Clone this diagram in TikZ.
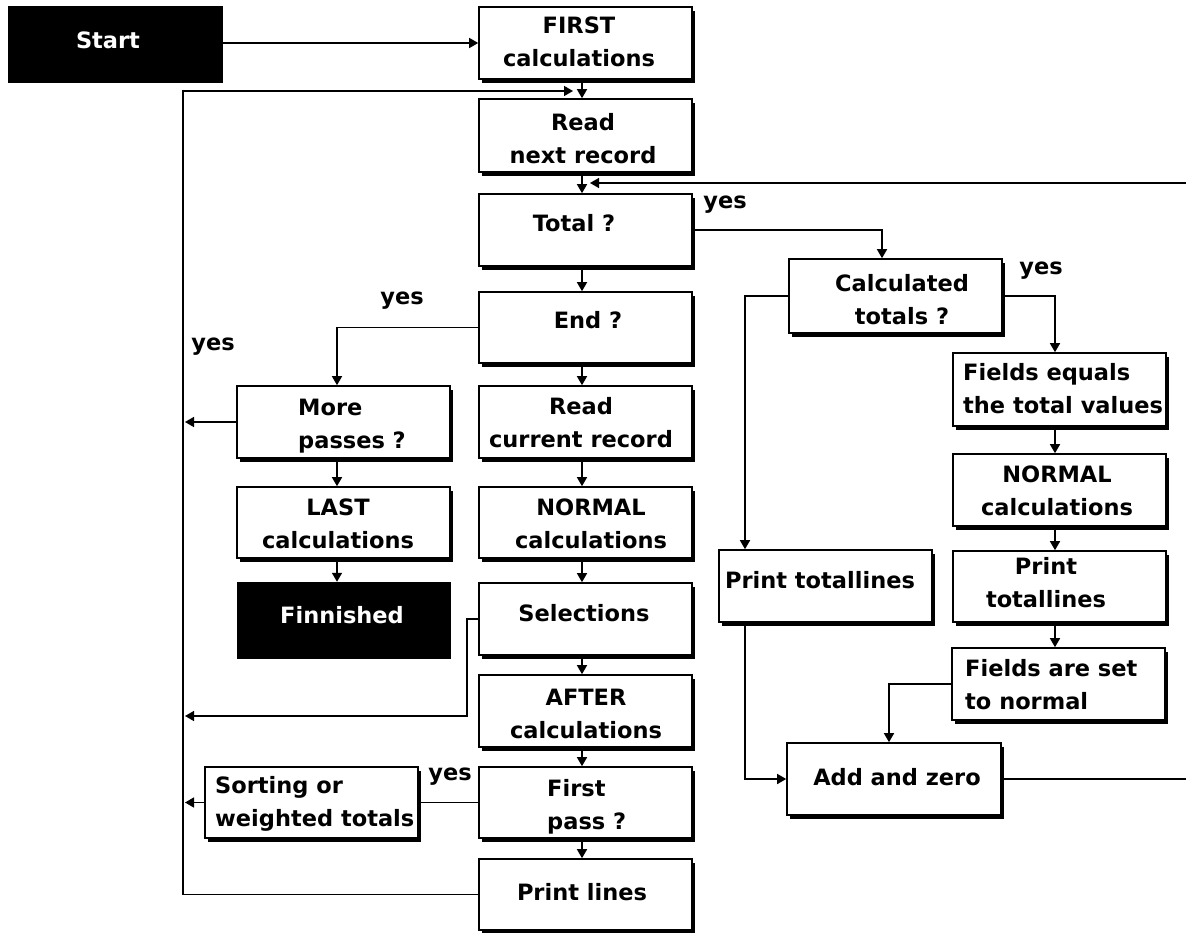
\documentclass[tikz,border=0pt]{standalone}
\usepackage{fontspec}
\setmainfont{DejaVu Sans}
\usetikzlibrary{arrows.meta}
\newcommand\mybox[5]{%
  \fill ({#2+3},{#3+4}) rectangle ({#4+3},{#5+4});
  \pgfmathsetmacro\mybw{#4-#2}\pgfmathsetmacro\mybh{#5-#3}%
  \node[box, minimum width=\mybw pt, minimum height=\mybh pt] (#1) at ({(#2+#4)/2},{(#3+#5)/2}) {};}
\newcommand\myblk[5]{%
  \pgfmathsetmacro\mybw{#4-#2}\pgfmathsetmacro\mybh{#5-#3}%
  \node[blk, minimum width=\mybw pt, minimum height=\mybh pt] (#1) at ({(#2+#4)/2},{(#3+#5)/2}) {};}
\begin{document}
\begin{tikzpicture}[x=1pt,y=-1pt,
  box/.style={draw=black, line width=1.6pt, fill=white, inner sep=0pt},
  blk/.style={fill=black, draw=black, inner sep=0pt},
  txt/.style={font=\fontsize{22.5}{33}\selectfont\bfseries, inner sep=0pt, align=center},
  wtxt/.style={txt, text=white},
  ltxt/.style={txt, align=left, anchor=west},
  conn/.style={line width=1.5pt},
  arr/.style={conn, -{Triangle[length=9pt,width=10pt]}}
]
\useasboundingbox (0,0) rectangle (1186,933);
\clip (0,0) rectangle (1186,933);

% boxes
\myblk{start}{8}{6}{222}{82}
\mybox{first}{479}{7}{692}{79}
\mybox{readnext}{479}{99}{692}{172}
\mybox{total}{479}{194}{692}{266}
\mybox{end}{479}{292}{692}{363}
\mybox{readcur}{479}{386}{692}{458}
\mybox{normal}{479}{487}{692}{558}
\mybox{sel}{479}{583}{692}{655}
\mybox{after}{479}{675}{692}{747}
\mybox{firstpass}{479}{767}{692}{838}
\mybox{printlines}{479}{859}{692}{930}
\mybox{more}{237}{386}{450}{458}
\mybox{last}{237}{487}{450}{558}
\myblk{fin}{237}{582}{450}{658}
\mybox{sorting}{205}{767}{418}{838}
\mybox{calc}{789}{259}{1002}{333}
\mybox{fieldseq}{953}{353}{1166}{426}
\mybox{normaltwo}{953}{454}{1166}{526}
\mybox{printtwo}{953}{551}{1166}{622}
\mybox{fieldset}{952}{648}{1165}{720}
\mybox{printtl}{719}{550}{932}{622}
\mybox{addzero}{787}{743}{1001}{815}

% helper coordinates
\coordinate (mx) at (582,0);
\coordinate (lx) at (337,0);
\coordinate (rx) at (1055,0);
\coordinate (px) at (745,0);
\coordinate (cx) at (882,0);
\coordinate (ax) at (889,0);
\coordinate (ex) at (1192,0);
\coordinate (lp) at (183,0);
\coordinate (loopend) at (573,91);
\coordinate (retend) at (590,183);
\coordinate (moreend) at (185,422);
\coordinate (selend) at (185,716);
\coordinate (sortend) at (185,802.5);

% texts
\node[wtxt] (t-start) at (108,40) {Start};
\node[txt] (t-first) at (579,42) {FIRST\\calculations};
\node[txt] (t-readnext) at (583,139) {Read\\next record};
\node[txt] (t-total) at (574,223) {Total ?};
\node[txt] (t-end) at (588,320) {End ?};
\node[txt] (t-readcur) at (581,423) {Read\\current record};
\node[txt] (t-normal) at (591,523.5) {NORMAL\\calculations};
\node[txt] (t-sel) at (584,613) {Selections};
\node[txt] (t-after) at (586,713.5) {AFTER\\calculations};
\node[ltxt] (t-firstpass) at (547,806.5) {First\\pass ?};
\node[txt] (t-printlines) at (582,892) {Print lines};
\node[ltxt] (t-more) at (298,426.5) {More\\passes ?};
\node[txt] (t-last) at (338,523.5) {LAST\\calculations};
\node[wtxt] (t-fin) at (342,615) {Finnished};
\node[ltxt] (t-sorting) at (215,803.5) {Sorting or\\weighted totals};
\node[txt] (t-calc) at (902,300) {Calculated\\totals ?};
\node[ltxt] (t-fieldseq) at (963,388.5) {Fields equals\\the total values};
\node[txt] (t-normaltwo) at (1057,490.5) {NORMAL\\calculations};
\node[txt] (t-printtwo) at (1046,582.5) {Print\\totallines};
\node[ltxt] (t-fieldset) at (965,685) {Fields are set\\to normal};
\node[txt] (t-printtl) at (820,580) {Print totallines};
\node[txt] (t-addzero) at (897,777) {Add and zero};

\node[txt] (y-total) at (725,205) {yes};
\node[txt] (y-calc) at (1041,271) {yes};
\node[txt] (y-end) at (402,301) {yes};
\node[txt] (y-more) at (213,347) {yes};
\node[txt] (y-first) at (450,777) {yes};

% connectors
\draw[arr] (first.west -| start.east) -- (first.west);
\draw[arr] (first.south -| mx) -- (readnext.north -| mx);
\draw[arr] (printlines.west) -- (printlines.west -| lp) |- (loopend);
\draw[arr] (readnext.south -| mx) -- (total.north -| mx);
\draw[arr] (addzero.east) -- (addzero.east -| ex) |- (retend);
\draw[arr] (total.south -| mx) -- (end.north -| mx);
\draw[arr] (total.east) -| (calc.north -| cx);
\draw[arr] (end.west) -| (more.north -| lx);
\draw[arr] (end.south -| mx) -- (readcur.north -| mx);
\draw[arr] (more.west) -- (moreend);
\draw[arr] (more.south -| lx) -- (last.north -| lx);
\draw[arr] (last.south -| lx) -- (fin.north -| lx);
\draw[arr] (readcur.south -| mx) -- (normal.north -| mx);
\draw[arr] (normal.south -| mx) -- (sel.north -| mx);
\draw[arr] (sel.south -| mx) -- (after.north -| mx);
\draw[arr] (after.south -| mx) -- (firstpass.north -| mx);
\draw[arr] (firstpass.south -| mx) -- (printlines.north -| mx);
\draw[arr] (sel.west) -- ++(-11,0) |- (selend);
\draw[conn] (firstpass.west) -- (sorting.east);
\draw[arr] (sorting.west) -- (sortend);
\draw[arr] (calc.east) -| (fieldseq.north -| rx);
\draw[arr] (calc.west) -| (printtl.north -| px);
\draw[arr] (printtl.south -| px) |- (addzero.west);
\draw[arr] (fieldseq.south -| rx) -- (normaltwo.north -| rx);
\draw[arr] (normaltwo.south -| rx) -- (printtwo.north -| rx);
\draw[arr] (printtwo.south -| rx) -- (fieldset.north -| rx);
\draw[arr] (fieldset.west) -| (addzero.north -| ax);
\end{tikzpicture}
\end{document}
